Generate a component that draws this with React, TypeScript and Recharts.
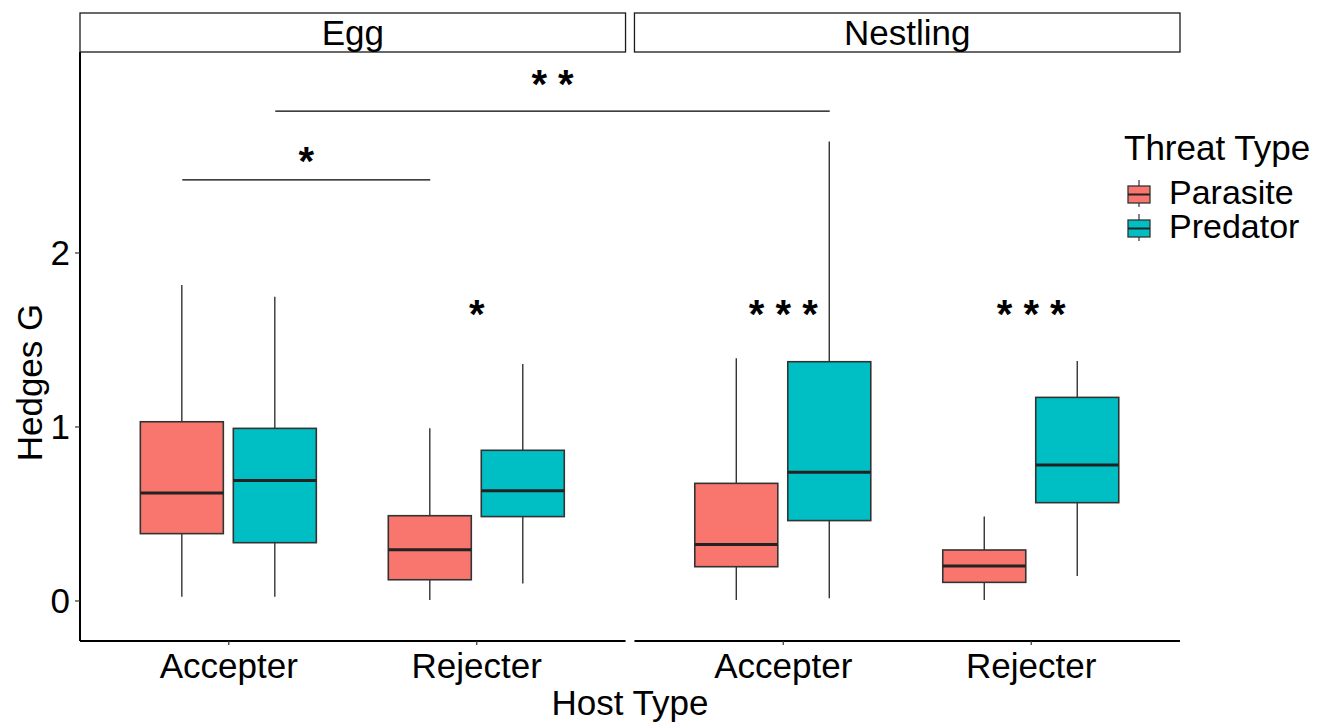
import React from 'react';
import { ComposedChart, Bar, Scatter, XAxis, YAxis, ReferenceLine, Legend } from 'recharts';

const FACETS = ['Egg', 'Nestling'];
const HOSTS = ['Accepter', 'Rejecter'];
const THREATS = ['Parasite', 'Predator'];
const THREAT_COLORS = ['#F8766D', '#00BFC4'];

// box stats, one entry per facet / host / threat (threat varies fastest)
const WHISKER_LOW = [0.025, 0.025, 0.006, 0.1, 0.006, 0.015, 0.006, 0.144];
const QUARTILE_1 = [0.387, 0.335, 0.122, 0.485, 0.197, 0.462, 0.107, 0.565];
const MEDIANS = [0.62, 0.693, 0.295, 0.634, 0.325, 0.74, 0.201, 0.782];
const QUARTILE_3 = [1.03, 0.992, 0.49, 0.866, 0.676, 1.375, 0.293, 1.17];
const WHISKER_HIGH = [1.816, 1.749, 0.992, 1.362, 1.395, 2.64, 0.485, 1.379];

const Y_TICKS = [0, 1, 2];

// comparisons between groups, drawn as a bar with stars above it
const BRACKETS = [
  { from: ['Egg', 'Accepter', 'Parasite'], to: ['Egg', 'Rejecter', 'Parasite'], y: 2.42, label: '*', labelY: 2.55 },
  { from: ['Egg', 'Accepter', 'Predator'], to: ['Nestling', 'Accepter', 'Predator'], y: 2.815, label: '* *', labelY: 2.99 },
];

// parasite vs predator within a host type
const HOST_STARS = [
  { facet: 'Egg', host: 'Rejecter', label: '*' },
  { facet: 'Nestling', host: 'Accepter', label: '* * *' },
  { facet: 'Nestling', host: 'Rejecter', label: '* * *' },
];
const HOST_STAR_Y = 1.67;

// layout
const WIDTH = 1323;
const HEIGHT = 722;
const MARGIN = { top: 13, right: 143, bottom: 0, left: 0 };
const Y_AXIS_W = 80;
const STRIP_H = 39;
const X_AXIS_H = 81;
const FACET_SPAN = 2.2;
const FACET_GAP = 0.036;
const X_MAX = FACET_SPAN * 2 + FACET_GAP;
const DODGE = 0.1875;
const Y_MIN = -0.23;
const Y_MAX = 3.155;
const PLOT_W = WIDTH - MARGIN.left - MARGIN.right - Y_AXIS_W;
const PX_PER_X = PLOT_W / X_MAX;
const BOX_W = 83;
const FONT = '"Liberation Sans", Arial, sans-serif';
const TEXT_SIZE = 35;
const STAR_SIZE = 40;
const LINE = '#333333';

const facetStart = (f: string) => FACETS.indexOf(f) * (FACET_SPAN + FACET_GAP);
const hostPos = (f: string, h: string) => facetStart(f) + 0.6 + HOSTS.indexOf(h);
const boxPos = (f: string, h: string, t: string) =>
  hostPos(f, h) + (THREATS.indexOf(t) === 0 ? -DODGE : DODGE);

const boxes = FACETS.flatMap((facet) =>
  HOSTS.flatMap((host) =>
    THREATS.map((threat) => {
      const i = FACETS.indexOf(facet) * 4 + HOSTS.indexOf(host) * 2 + THREATS.indexOf(threat);
      return {
        facet,
        host,
        threat,
        x: boxPos(facet, host, threat),
        lower: WHISKER_LOW[i],
        q1: QUARTILE_1[i],
        median: MEDIANS[i],
        q3: QUARTILE_3[i],
        upper: WHISKER_HIGH[i],
      };
    })
  )
);

const xTicks = FACETS.flatMap((f) => HOSTS.map((h) => ({ pos: hostPos(f, h), label: h })));
const stripTicks = FACETS.map((f) => ({ pos: facetStart(f) + FACET_SPAN / 2, label: f }));

const starPoints = [
  ...BRACKETS.map((b) => ({
    x: (boxPos(b.from[0], b.from[1], b.from[2]) + boxPos(b.to[0], b.to[1], b.to[2])) / 2,
    y: b.labelY,
    label: b.label,
  })),
  ...HOST_STARS.map((s) => ({ x: hostPos(s.facet, s.host), y: HOST_STAR_Y, label: s.label })),
];

const labelAt = (list: { pos: number; label: string }[], v: number) =>
  list.find((t) => Math.abs(t.pos - v) < 1e-6)?.label ?? '';

const BoxShape = (props: any) => {
  const { x, y, width, height, payload } = props;
  const top = Math.min(y, y + height);
  const bottom = Math.max(y, y + height);
  const span = payload.upper - payload.lower;
  const toY = (v: number) => bottom - ((v - payload.lower) / span) * (bottom - top);
  const cx = x + width / 2;
  const left = cx - BOX_W / 2;
  const fill = THREAT_COLORS[THREATS.indexOf(payload.threat)];
  return (
    <g>
      <line x1={cx} x2={cx} y1={toY(payload.upper)} y2={toY(payload.q3)} stroke={LINE} strokeWidth={1.4} />
      <line x1={cx} x2={cx} y1={toY(payload.q1)} y2={toY(payload.lower)} stroke={LINE} strokeWidth={1.4} />
      <rect
        x={left}
        y={toY(payload.q3)}
        width={BOX_W}
        height={toY(payload.q1) - toY(payload.q3)}
        fill={fill}
        stroke={LINE}
        strokeWidth={1.6}
      />
      <line x1={left} x2={left + BOX_W} y1={toY(payload.median)} y2={toY(payload.median)} stroke="#222" strokeWidth={3} />
    </g>
  );
};

const StarText = (props: any) => {
  const { cx, cy, payload } = props;
  return (
    <text x={cx} y={cy + STAR_SIZE * 0.44} textAnchor="middle" fontSize={STAR_SIZE} fontWeight="bold" fill="#000" fontFamily={FONT}>
      {payload.label}
    </text>
  );
};

const StripTick = (props: any) => {
  const { x, y, payload } = props;
  const half = (FACET_SPAN / 2) * PX_PER_X;
  return (
    <g>
      <rect x={x - half} y={y - STRIP_H} width={half * 2} height={STRIP_H} fill="#fff" stroke="#1a1a1a" strokeWidth={1.3} />
      <text x={x} y={y - STRIP_H / 2} textAnchor="middle" dominantBaseline="central" fontSize={TEXT_SIZE} fill="#000" fontFamily={FONT}>
        {labelAt(stripTicks, payload.value)}
      </text>
    </g>
  );
};

const YTitle = (props: any) => {
  const vb = props.viewBox ?? { x: 0, y: 52, width: 80, height: 589 };
  const cx = vb.x + 29;
  const cy = vb.y + vb.height / 2 + 36;
  return (
    <text
      x={cx}
      y={cy}
      transform={`rotate(-90 ${cx} ${cy})`}
      textAnchor="middle"
      dominantBaseline="central"
      fontSize={TEXT_SIZE}
      fill="#000"
      fontFamily={FONT}
    >
      Hedges G
    </text>
  );
};

const ThreatLegend = () => (
  <div style={{ fontFamily: FONT, color: '#000', textAlign: 'left' }}>
    <div style={{ fontSize: TEXT_SIZE, lineHeight: '40px', whiteSpace: 'nowrap' }}>Threat Type</div>
    <div style={{ marginTop: 5 }}>
      {THREATS.map((t, i) => (
        <div key={t} style={{ display: 'flex', alignItems: 'flex-start', height: 34 }}>
          <svg width={24} height={34} style={{ marginLeft: 3, overflow: 'visible' }}>
            <line x1={12} x2={12} y1={7} y2={34} stroke={LINE} strokeWidth={1.2} />
            <rect x={1} y={13} width={22} height={17} fill={THREAT_COLORS[i]} stroke={LINE} strokeWidth={1.3} />
            <line x1={1} x2={23} y1={21.5} y2={21.5} stroke="#222" strokeWidth={2} />
          </svg>
          <span style={{ fontSize: 34, lineHeight: '34px', marginLeft: 18, marginTop: 2, whiteSpace: 'nowrap' }}>{t}</span>
        </div>
      ))}
    </div>
  </div>
);

export default function App() {
  return (
    <div style={{ position: 'absolute', left: 0, top: 0, fontFamily: FONT, background: '#fff' }}>
      <ComposedChart width={WIDTH} height={HEIGHT} data={boxes} margin={MARGIN}>
        <XAxis
          xAxisId="strip"
          orientation="top"
          type="number"
          dataKey="x"
          domain={[0, X_MAX]}
          ticks={stripTicks.map((t) => t.pos)}
          interval={0}
          height={STRIP_H}
          axisLine={false}
          tickLine={false}
          tickSize={0}
          tickMargin={0}
          tick={<StripTick />}
        />
        <XAxis
          type="number"
          dataKey="x"
          domain={[0, X_MAX]}
          allowDataOverflow
          ticks={xTicks.map((t) => t.pos)}
          interval={0}
          tickFormatter={(v: number) => labelAt(xTicks, v)}
          height={X_AXIS_H}
          axisLine={false}
          tickLine={{ stroke: LINE, strokeWidth: 1.2 }}
          tickSize={4}
          tickMargin={8}
          tick={{ fontSize: TEXT_SIZE, fill: '#000' }}
          label={{ value: 'Host Type', position: 'insideBottom', offset: 7, fontSize: TEXT_SIZE, fill: '#000' }}
        />
        <YAxis
          type="number"
          domain={[Y_MIN, Y_MAX]}
          allowDataOverflow
          ticks={Y_TICKS}
          interval={0}
          width={Y_AXIS_W}
          axisLine={{ stroke: '#000', strokeWidth: 2 }}
          tickLine={{ stroke: LINE, strokeWidth: 1.2 }}
          tickSize={5}
          tickMargin={5}
          tick={{ fontSize: TEXT_SIZE, fill: '#000' }}
          label={<YTitle />}
        />
        {FACETS.map((f) => (
          <ReferenceLine
            key={f}
            segment={[
              { x: facetStart(f), y: Y_MIN },
              { x: facetStart(f) + FACET_SPAN, y: Y_MIN },
            ]}
            stroke="#000"
            strokeWidth={2}
            ifOverflow="visible"
          />
        ))}
        {BRACKETS.map((b) => (
          <ReferenceLine
            key={b.label + b.y}
            segment={[
              { x: boxPos(b.from[0], b.from[1], b.from[2]), y: b.y },
              { x: boxPos(b.to[0], b.to[1], b.to[2]), y: b.y },
            ]}
            stroke="#000"
            strokeWidth={1.2}
          />
        ))}
        <Bar
          dataKey={(d: any) => [d.lower, d.upper]}
          barSize={BOX_W}
          shape={<BoxShape />}
          isAnimationActive={false}
        />
        <Scatter data={starPoints} dataKey="y" shape={<StarText />} isAnimationActive={false} legendType="none" />
        <Legend
          layout="vertical"
          align="center"
          verticalAlign="middle"
          content={() => <ThreatLegend />}
          wrapperStyle={{ left: 1124, top: 128, width: 199 }}
        />
      </ComposedChart>
    </div>
  );
}
